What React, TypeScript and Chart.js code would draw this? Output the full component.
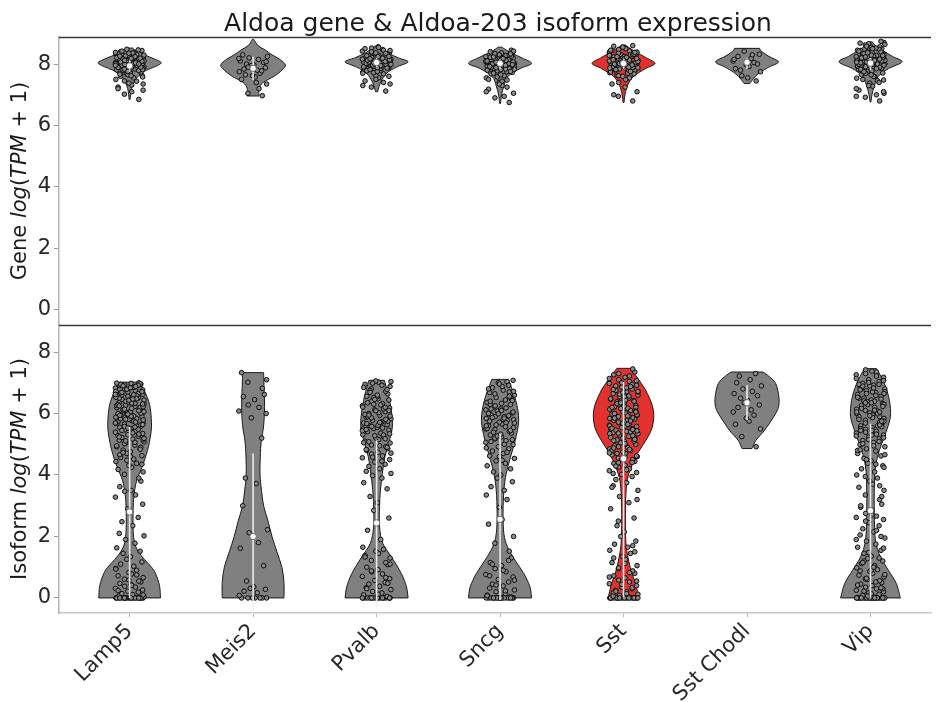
import React, { useEffect, useRef } from "react";
import { Chart, registerables } from "chart.js";

Chart.register(...registerables);

// ---------------- data ----------------
const CATEGORIES = ["Lamp5", "Meis2", "Pvalb", "Sncg", "Sst", "Sst Chodl", "Vip"];
const HIGHLIGHT = "Sst";
const TITLE = "Aldoa gene & Aldoa-203 isoform expression";
const Y_TICKS = [0, 2, 4, 6, 8];
const Y_MIN = -0.49;
const Y_MAX = 8.88;
const X_MIN = -0.572;
const X_MAX = 6.49;

// violin outlines: [value, half-width in category units], bottom to top
const GENE_VIOLIN_LAMP5 = [[6.85, 0.004], [7.2, 0.016], [7.5, 0.048], [7.75, 0.113], [7.95, 0.225], [8.05, 0.255], [8.15, 0.209], [8.3, 0.121], [8.45, 0.048], [8.52, 0.024]];
const GENE_VIOLIN_MEIS2 = [[6.96, 0.048], [7.2, 0.048], [7.4, 0.081], [7.6, 0.169], [7.8, 0.233], [7.97, 0.262], [8.15, 0.217], [8.3, 0.153], [8.46, 0.097], [8.6, 0.04], [8.8, 0.006]];
const GENE_VIOLIN_PVALB = [[7.1, 0.008], [7.4, 0.032], [7.7, 0.081], [7.9, 0.161], [8.07, 0.255], [8.2, 0.177], [8.35, 0.097], [8.5, 0.04], [8.58, 0.016]];
const GENE_VIOLIN_SNCG = [[6.72, 0.004], [7.0, 0.012], [7.3, 0.032], [7.6, 0.064], [7.85, 0.161], [8.02, 0.255], [8.2, 0.177], [8.35, 0.097], [8.48, 0.04], [8.55, 0.016]];
const GENE_VIOLIN_SST = [[6.75, 0.004], [7.0, 0.012], [7.3, 0.032], [7.6, 0.081], [7.85, 0.177], [8.02, 0.255], [8.2, 0.185], [8.4, 0.097], [8.55, 0.04], [8.62, 0.016]];
const GENE_VIOLIN_CHODL = [[7.37, 0.024], [7.5, 0.048], [7.7, 0.097], [7.9, 0.177], [8.07, 0.255], [8.25, 0.177], [8.4, 0.121], [8.51, 0.101]];
const GENE_VIOLIN_VIP = [[6.77, 0.004], [7.0, 0.012], [7.3, 0.032], [7.6, 0.064], [7.85, 0.145], [8.07, 0.255], [8.25, 0.177], [8.45, 0.097], [8.6, 0.04], [8.72, 0.016]];

const ISO_VIOLIN_LAMP5 = [[0, 0.25], [0.4, 0.242], [0.8, 0.209], [1.0, 0.177], [1.25, 0.121], [1.5, 0.072], [1.8, 0.04], [2.3, 0.028], [3.2, 0.032], [3.8, 0.056], [4.25, 0.1], [4.8, 0.145], [5.3, 0.17], [5.7, 0.177], [6.3, 0.161], [6.8, 0.113], [7.02, 0.08]];
const ISO_VIOLIN_MEIS2 = [[0, 0.25], [0.5, 0.25], [1.0, 0.233], [1.5, 0.193], [2.0, 0.153], [2.5, 0.121], [3.0, 0.085], [3.5, 0.068], [4.0, 0.056], [4.6, 0.058], [5.1, 0.066], [5.6, 0.085], [6.2, 0.093], [6.8, 0.089], [7.33, 0.085]];
const ISO_VIOLIN_PVALB = [[0, 0.255], [0.36, 0.242], [0.79, 0.201], [1.33, 0.121], [1.77, 0.051], [2.31, 0.024], [2.96, 0.024], [3.5, 0.031], [4.05, 0.047], [4.59, 0.067], [5.13, 0.105], [5.67, 0.129], [6.43, 0.105], [7.08, 0.063]];
const ISO_VIOLIN_SNCG = [[0, 0.255], [0.36, 0.242], [0.79, 0.193], [1.23, 0.121], [1.66, 0.06], [2.09, 0.031], [2.75, 0.024], [3.5, 0.031], [4.05, 0.05], [4.59, 0.085], [5.13, 0.123], [5.78, 0.151], [6.43, 0.127], [7.11, 0.067]];
const ISO_VIOLIN_SST = [[0, 0.125], [0.47, 0.097], [0.9, 0.06], [1.45, 0.03], [1.88, 0.018], [2.53, 0.015], [3.28, 0.018], [3.83, 0.03], [4.26, 0.063], [4.7, 0.113], [5.13, 0.181], [5.56, 0.233], [6.1, 0.242], [6.65, 0.193], [7.08, 0.127], [7.47, 0.054]];
const ISO_VIOLIN_CHODL = [[4.86, 0.04], [4.91, 0.047], [5.13, 0.072], [5.45, 0.141], [5.89, 0.215], [6.2, 0.254], [6.54, 0.258], [6.97, 0.233], [7.2, 0.18], [7.35, 0.129]];
const ISO_VIOLIN_VIP = [[0, 0.242], [0.47, 0.209], [0.9, 0.145], [1.33, 0.081], [1.88, 0.04], [2.75, 0.031], [3.61, 0.031], [4.26, 0.04], [4.8, 0.072], [5.35, 0.121], [5.89, 0.161], [6.43, 0.153], [6.97, 0.113], [7.46, 0.05]];

// individual cells (jittered dots)
const GENE_DOTS_LAMP5 = [6.85, 7.02, 7.15, 7.25, 7.32, 7.38, 7.44, 7.5, 7.55, 7.6, 7.64, 7.68, 7.72, 7.75, 7.78, 7.81, 7.84, 7.87, 7.9, 7.92, 7.94, 7.96, 7.98, 8.0, 8.02, 8.04, 8.06, 8.08, 8.1, 8.12, 8.14, 8.16, 8.18, 8.2, 8.22, 8.25, 8.28, 8.31, 8.34, 8.37, 8.4, 8.44, 8.48, 7.7, 7.8, 7.88, 7.95, 8.0, 8.05, 8.1, 8.15, 8.2, 8.3, 7.85, 7.65, 7.58, 8.38, 8.08, 7.99,
  7.62, 7.67, 7.74, 7.79, 7.83, 7.86, 7.89, 7.91, 7.93, 7.97, 8.01, 8.03, 8.07, 8.09, 8.11, 8.13, 8.17, 8.19, 8.21, 8.24, 8.27, 8.29, 8.33, 8.36, 8.42, 8.46, 7.76, 7.82, 7.96, 8.04, 8.12, 8.18, 8.26, 7.9, 8.0, 7.45, 7.35, 7.2, 7.1, 8.35];
const GENE_DOTS_MEIS2 = [6.97, 7.05, 7.35, 7.5, 7.58, 7.62, 7.7, 7.75, 7.8, 7.84, 7.88, 7.92, 7.97, 8.0, 8.05, 8.1, 8.15, 8.2, 8.25, 8.3, 7.4, 7.65, 7.78, 7.95, 8.08, 8.18, 7.2, 7.9];
const GENE_DOTS_PVALB = [7.12, 7.25, 7.35, 7.45, 7.55, 7.62, 7.68, 7.74, 7.8, 7.84, 7.88, 7.92, 7.96, 8.0, 8.03, 8.06, 8.09, 8.12, 8.15, 8.18, 8.22, 8.26, 8.3, 8.34, 8.38, 8.42, 8.47, 8.52, 8.56, 7.78, 7.9, 7.98, 8.05, 8.1, 8.2, 8.28, 8.36, 8.45, 7.7, 7.86, 8.01,
  7.6, 7.72, 7.76, 7.82, 7.87, 7.91, 7.94, 7.97, 7.99, 8.02, 8.04, 8.07, 8.08, 8.11, 8.14, 8.16, 8.19, 8.21, 8.24, 8.27, 8.32, 8.35, 8.4, 8.44, 8.5, 8.54, 7.5, 7.4, 7.3, 7.95, 8.13, 8.25, 8.04, 7.88, 8.17];
const GENE_DOTS_SNCG = [6.75, 6.9, 7.05, 7.18, 7.3, 7.4, 7.48, 7.55, 7.62, 7.68, 7.73, 7.78, 7.82, 7.86, 7.9, 7.93, 7.96, 7.99, 8.02, 8.05, 8.08, 8.11, 8.14, 8.17, 8.2, 8.24, 8.28, 8.32, 8.36, 8.4, 8.45, 7.85, 7.95, 8.0, 8.1, 8.2, 8.3, 7.75, 8.06, 7.92, 8.15, 8.38, 7.58,
  7.65, 7.7, 7.76, 7.8, 7.84, 7.88, 7.91, 7.94, 7.97, 8.0, 8.01, 8.04, 8.07, 8.09, 8.12, 8.16, 8.19, 8.22, 8.26, 8.3, 8.34, 8.42, 7.5, 7.44, 7.35, 7.25, 7.1, 6.95, 7.88, 7.98, 8.03, 8.13, 8.23, 8.33, 8.1, 7.96, 8.06, 7.83, 7.92, 8.18];
const GENE_DOTS_SST = [6.8, 6.95, 7.1, 7.35, 7.5, 7.6, 7.66, 7.72, 7.77, 7.82, 7.86, 7.9, 7.94, 7.97, 8.0, 8.03, 8.06, 8.09, 8.12, 8.15, 8.18, 8.21, 8.25, 8.29, 8.33, 8.37, 8.42, 8.47, 8.52, 8.58, 7.8, 7.88, 7.95, 8.02, 8.08, 8.14, 8.2, 8.3, 8.4, 7.7, 7.84, 7.99, 8.1, 8.25, 7.64,
  7.68, 7.74, 7.79, 7.84, 7.88, 7.92, 7.96, 7.98, 8.01, 8.04, 8.07, 8.1, 8.13, 8.16, 8.19, 8.23, 8.27, 8.31, 8.35, 8.39, 8.44, 8.5, 8.55, 7.76, 7.87, 7.93, 8.0, 8.05, 8.11, 8.17, 8.24, 8.32, 8.45, 7.9, 8.02, 8.08, 8.14, 8.22, 7.82, 7.97, 8.06, 8.18, 8.28, 7.55, 7.4, 7.25, 7.0, 8.38, 8.6, 7.62];
const GENE_DOTS_CHODL = [7.45, 7.62, 7.75, 7.85, 7.92, 7.98, 8.05, 8.1, 8.18, 8.25, 8.32, 8.42, 7.55, 7.8, 8.0, 8.15, 8.3];
const GENE_DOTS_VIP = [6.8, 6.92, 7.05, 7.15, 7.28, 7.38, 7.46, 7.54, 7.6, 7.66, 7.71, 7.76, 7.8, 7.84, 7.88, 7.92, 7.95, 7.98, 8.01, 8.04, 8.07, 8.1, 8.13, 8.16, 8.2, 8.24, 8.28, 8.33, 8.38, 8.44, 8.5, 8.56, 8.62, 8.7, 7.82, 7.9, 7.97, 8.03, 8.09, 8.15, 8.22, 8.3, 8.4, 8.55, 7.74, 7.86, 7.94, 8.0, 8.06, 8.12, 8.18, 8.26, 8.35, 8.48, 8.66, 7.48, 7.2, 7.0,
  7.7, 7.78, 7.83, 7.87, 7.9, 7.93, 7.96, 7.99, 8.02, 8.05, 8.08, 8.11, 8.14, 8.17, 8.21, 8.25, 8.29, 8.34, 8.39, 8.45, 8.52, 8.58, 8.64, 8.68, 7.6, 7.5, 7.4, 7.3, 7.1, 6.95, 7.85, 7.91, 7.98, 8.04, 8.1, 8.16, 8.23, 8.31, 8.42, 8.5, 7.95, 8.0, 8.06, 8.12, 8.2, 8.28, 8.37, 7.65, 7.75, 8.74];

const ISO_DOTS_LAMP5 = [0, 0, 0, 0, 0, 0, 0, 0, 0, 0, 0, 0, 0, 0, 0, 0, 0, 0, 0.04, 0.07, 0.11, 0.14, 0.19, 0.22, 0.26, 0.31, 0.35, 0.38, 0.43, 0.47, 0.52, 0.55, 0.61, 0.66, 0.72, 0.78, 0.83, 0.9, 0.96, 1.03, 1.1, 1.17, 1.26, 1.34, 1.45, 1.52, 1.63, 1.78, 1.9, 2.02, 2.1, 2.35, 2.48, 2.62, 2.9, 3.05, 3.28, 3.35, 3.47, 3.5, 3.62, 3.8, 3.9, 4.02, 4.1, 4.18, 4.25, 4.31, 4.38, 4.44, 4.52, 4.57, 4.63, 4.7, 4.76, 4.81, 4.87, 4.92, 4.97, 5.03, 5.08, 5.13, 5.17, 5.22, 5.26, 5.31, 5.35, 5.39, 5.43, 5.47, 5.51, 5.55, 5.59, 5.62, 5.66, 5.7, 5.73, 5.77, 5.81, 5.84, 5.88, 5.92, 5.95, 5.99, 6.03, 6.07, 6.11, 6.15, 6.19, 6.23, 6.27, 6.31, 6.36, 6.41, 6.46, 6.51, 6.57, 6.63, 6.68, 6.74, 6.8, 6.86, 6.91, 6.96, 7.0, 5.02, 5.15, 5.28, 5.4, 5.52, 5.6, 5.68, 5.75, 5.83, 5.9, 5.97, 6.05, 6.12, 6.2, 6.26, 6.33, 6.39, 6.44, 6.5, 6.55, 6.6, 6.65, 6.7, 6.77, 6.83, 6.88, 6.93, 6.98, 4.66, 4.9, 5.33, 5.58, 5.79, 6.0, 6.17, 6.36, 6.58, 6.72, 6.85, 6.95,
  4.35, 4.48, 4.6, 4.73, 4.84, 4.95, 5.06, 5.11, 5.19, 5.24, 5.37, 5.45, 5.49, 5.53, 5.64, 5.69, 5.72, 5.86, 5.91, 5.94, 6.01, 6.09, 6.14, 6.22, 6.29, 6.34, 6.43, 6.48, 6.53, 6.61, 6.67, 6.71, 6.79, 6.84, 6.9, 6.97, 6.99, 5.56, 5.81, 6.06, 6.25, 6.47, 6.69, 6.92, 5.98, 6.31, 6.62, 6.88, 0, 0, 0, 0, 0, 0, 0.1, 0.24, 0.41, 0.58, 0.75, 0.94];
const ISO_DOTS_MEIS2 = [0, 0, 0, 0, 0, 0, 0, 0.08, 0.17, 0.22, 0.28, 0.31, 0.36, 0.55, 1.05, 1.62, 1.8, 2.12, 2.22, 3.0, 3.72, 3.9, 5.2, 5.86, 6.0, 6.08, 6.2, 6.28, 6.45, 6.55, 6.62, 6.82, 7.02, 7.1, 7.33];
const ISO_DOTS_PVALB = [0, 0, 0, 0, 0, 0, 0, 0, 0, 0, 0, 0, 0, 0, 0.05, 0.1, 0.16, 0.21, 0.27, 0.33, 0.38, 0.45, 0.5, 0.57, 0.63, 0.7, 0.78, 0.85, 0.92, 1.0, 1.08, 1.15, 1.22, 1.3, 1.38, 1.45, 1.52, 1.58, 1.65, 1.9, 2.2, 2.6, 2.85, 3.1, 3.3, 3.55, 3.75, 3.9, 3.98, 4.05, 4.12, 4.2, 4.28, 4.35, 4.42, 4.5, 4.56, 4.62, 4.68, 4.74, 4.8, 4.86, 4.92, 4.98, 5.04, 5.1, 5.15, 5.2, 5.26, 5.31, 5.36, 5.41, 5.46, 5.51, 5.55, 5.6, 5.64, 5.69, 5.73, 5.78, 5.83, 5.88, 5.94, 6.0, 6.06, 6.12, 6.18, 6.25, 6.32, 6.4, 6.48, 6.56, 6.64, 6.72, 6.8, 6.88, 6.95, 7.02, 7.06, 5.3, 5.5, 5.7, 5.9, 6.1, 6.3, 6.55, 6.75, 4.9, 5.05,
  4.45, 4.58, 4.71, 4.83, 4.95, 5.08, 5.18, 5.28, 5.34, 5.44, 5.53, 5.58, 5.62, 5.67, 5.75, 5.81, 5.86, 5.92, 5.97, 6.03, 6.09, 6.15, 6.21, 6.28, 6.35, 6.44, 6.52, 6.6, 6.69, 6.78, 6.85, 6.92, 6.99, 7.04, 5.48, 5.71, 5.95, 6.2, 6.46, 0, 0, 0, 0, 0.12, 0.3, 0.48, 0.66, 0.88, 1.1, 1.33];
const ISO_DOTS_SNCG = [0, 0, 0, 0, 0, 0, 0, 0, 0, 0, 0, 0, 0, 0, 0.04, 0.09, 0.14, 0.2, 0.26, 0.32, 0.39, 0.45, 0.52, 0.6, 0.68, 0.76, 0.85, 0.95, 1.05, 1.15, 1.3, 1.52, 1.78, 2.0, 2.4, 2.55, 2.95, 3.2, 3.35, 3.5, 3.62, 3.78, 3.9, 4.0, 4.1, 4.2, 4.3, 4.38, 4.46, 4.54, 4.62, 4.7, 4.78, 4.85, 4.92, 4.99, 5.06, 5.12, 5.18, 5.24, 5.3, 5.36, 5.42, 5.48, 5.54, 5.6, 5.66, 5.72, 5.78, 5.84, 5.9, 5.96, 6.02, 6.08, 6.15, 6.22, 6.29, 6.36, 6.44, 6.52, 6.6, 6.68, 6.76, 6.84, 6.92, 7.0, 7.08, 5.5, 5.7, 5.9, 6.1, 6.3, 6.5, 6.7, 5.2, 5.8, 6.0,
  4.48, 4.6, 4.74, 4.88, 5.0, 5.09, 5.15, 5.27, 5.33, 5.39, 5.45, 5.51, 5.57, 5.63, 5.69, 5.75, 5.81, 5.87, 5.93, 5.99, 6.05, 6.12, 6.18, 6.25, 6.33, 6.4, 6.48, 6.56, 6.64, 6.72, 6.8, 6.88, 6.96, 7.04, 5.6, 5.85, 6.15, 6.42, 0, 0, 0, 0, 0.07, 0.23, 0.42, 0.58, 0.72, 0.9, 1.1, 1.22];
const ISO_DOTS_SST = [0, 0, 0, 0, 0, 0, 0, 0, 0, 0, 0, 0, 0, 0, 0, 0, 0.04, 0.08, 0.12, 0.16, 0.2, 0.25, 0.3, 0.35, 0.4, 0.46, 0.52, 0.58, 0.65, 0.72, 0.8, 0.88, 0.95, 1.05, 1.15, 1.25, 1.35, 1.45, 1.55, 1.65, 1.75, 1.85, 2.0, 2.15, 2.35, 2.6, 2.9, 3.1, 3.3, 3.5, 3.65, 3.75, 3.85, 3.95, 4.02, 4.08, 4.14, 4.2, 4.26, 4.32, 4.38, 4.44, 4.5, 4.55, 4.6, 4.65, 4.7, 4.75, 4.8, 4.85, 4.9, 4.95, 5.0, 5.05, 5.1, 5.14, 5.18, 5.22, 5.26, 5.3, 5.34, 5.38, 5.42, 5.46, 5.5, 5.54, 5.58, 5.62, 5.66, 5.7, 5.74, 5.78, 5.82, 5.86, 5.9, 5.94, 5.98, 6.02, 6.06, 6.1, 6.14, 6.18, 6.22, 6.26, 6.3, 6.34, 6.38, 6.42, 6.46, 6.5, 6.55, 6.6, 6.65, 6.7, 6.75, 6.8, 6.86, 6.92, 6.98, 7.04, 7.1, 7.18, 7.26, 7.35, 7.45, 4.4, 4.6, 4.8, 5.0, 5.2, 5.4, 5.6, 5.8, 6.0, 6.2, 6.4, 6.6, 4.7, 5.1, 5.5, 5.9, 6.3, 6.7,
  4.05, 4.17, 4.29, 4.41, 4.52, 4.62, 4.72, 4.83, 4.92, 5.02, 5.12, 5.2, 5.28, 5.36, 5.44, 5.52, 5.6, 5.68, 5.76, 5.84, 5.92, 6.0, 6.08, 6.16, 6.24, 6.32, 6.4, 6.48, 6.57, 6.63, 6.72, 6.78, 6.84, 6.9, 6.95, 7.0, 7.07, 7.14, 7.22, 7.3, 4.58, 4.88, 5.16, 5.48, 5.72, 5.96, 6.2, 6.44, 6.68, 6.88, 5.35, 5.65, 5.85, 6.05, 6.35, 6.55, 0, 0, 0, 0, 0, 0, 0.06, 0.14, 0.22, 0.33, 0.44, 0.55, 0.68, 0.82, 0.98, 1.12, 1.3, 1.5, 1.7, 2.5, 3.2, 3.6];
const ISO_DOTS_CHODL = [4.92, 5.25, 5.5, 5.65, 5.75, 5.85, 5.95, 6.05, 6.12, 6.2, 6.28, 6.35, 6.42, 6.5, 6.58, 6.65, 6.72, 6.8, 6.9, 7.0, 7.1, 7.22, 7.3];
const ISO_DOTS_VIP = [0, 0, 0, 0, 0, 0, 0, 0, 0, 0, 0, 0, 0, 0, 0, 0, 0, 0, 0, 0, 0.04, 0.08, 0.12, 0.16, 0.2, 0.25, 0.3, 0.35, 0.4, 0.45, 0.5, 0.56, 0.62, 0.68, 0.74, 0.8, 0.86, 0.92, 0.98, 1.05, 1.12, 1.2, 1.28, 1.36, 1.45, 1.55, 1.65, 1.75, 1.85, 1.95, 2.05, 2.15, 2.25, 2.35, 2.45, 2.55, 2.62, 2.66, 2.75, 2.85, 2.95, 3.05, 3.2, 3.35, 3.5, 3.6, 3.7, 3.8, 3.9, 4.0, 4.1, 4.2, 4.3, 4.38, 4.46, 4.54, 4.62, 4.7, 4.78, 4.85, 4.92, 4.99, 5.06, 5.12, 5.18, 5.24, 5.3, 5.36, 5.42, 5.48, 5.54, 5.6, 5.66, 5.72, 5.78, 5.84, 5.9, 5.96, 6.02, 6.08, 6.14, 6.2, 6.26, 6.32, 6.38, 6.44, 6.5, 6.56, 6.62, 6.68, 6.74, 6.8, 6.86, 6.92, 6.98, 7.04, 7.1, 7.18, 7.26, 7.35, 7.42, 5.3, 5.5, 5.7, 5.9, 6.1, 6.3, 6.5, 6.7, 6.9, 5.6, 6.0, 6.4, 6.8, 0.3, 0.6, 0.9, 1.2, 2.0, 4.8,
  4.35, 4.5, 4.66, 4.82, 4.95, 5.02, 5.09, 5.15, 5.21, 5.27, 5.33, 5.39, 5.45, 5.51, 5.57, 5.63, 5.69, 5.75, 5.81, 5.87, 5.93, 5.99, 6.05, 6.11, 6.17, 6.23, 6.29, 6.35, 6.41, 6.47, 6.53, 6.59, 6.65, 6.71, 6.77, 6.83, 6.89, 6.95, 7.01, 7.07, 7.14, 7.22, 7.3, 7.38, 5.45, 5.75, 6.05, 6.35, 6.65, 6.95, 0, 0, 0, 0, 0, 0, 0, 0.06, 0.14, 0.22, 0.33, 0.42, 0.52, 0.64, 0.76, 0.88, 1.0, 1.15, 1.3, 1.48, 1.62, 1.9, 2.2, 2.5, 2.7, 3.0, 3.3, 3.65, 3.95, 4.25];

// medians and inner lines
const GENE_MEDIAN = [7.94, 7.86, 8.05, 8.02, 8.02, 8.06, 8.03];
const GENE_LINE_LO = [7.75, 7.48, 7.9, 7.85, 7.85, 7.85, 7.8];
const GENE_LINE_HI = [8.12, 8.24, 8.2, 8.15, 8.15, 8.2, 8.2];
const ISO_MEDIAN = [2.8, 2.0, 2.44, 2.56, 4.53, 6.35, 2.84];
const ISO_LINE_LO = [0.0, -0.6, -0.29, -0.07, 0.03, 5.78, 0.0];
const ISO_LINE_HI = [5.56, 4.7, 5.13, 5.35, 7.02, 6.92, 5.67];

// horizontal jitter pattern (fraction of jitter half-width)
const JITTER = [0.62, -0.35, 0.91, -0.78, 0.14, -0.05, 0.47, -0.93, 0.28, -0.61, 0.83, -0.19, 0.05, -0.44, 0.71, -0.87, 0.36, -0.27, 0.97, -0.7, 0.21, -0.52, 0.58, -0.12, 0.88, -0.96, 0.4, -0.33, 0.1, -0.66, 0.76];
const JITTER_W = 0.12;

// ---------------- styling ----------------
const FONT = "'DejaVu Sans', 'Liberation Sans', sans-serif";
const GRAY = "#808080";
const RED = "#e3322d";

const PANELS = [
  {
    axis: "yTop",
    label: "Gene",
    violins: [GENE_VIOLIN_LAMP5, GENE_VIOLIN_MEIS2, GENE_VIOLIN_PVALB, GENE_VIOLIN_SNCG, GENE_VIOLIN_SST, GENE_VIOLIN_CHODL, GENE_VIOLIN_VIP],
    dots: [GENE_DOTS_LAMP5, GENE_DOTS_MEIS2, GENE_DOTS_PVALB, GENE_DOTS_SNCG, GENE_DOTS_SST, GENE_DOTS_CHODL, GENE_DOTS_VIP],
    med: GENE_MEDIAN,
    lo: GENE_LINE_LO,
    hi: GENE_LINE_HI,
  },
  {
    axis: "yBot",
    label: "Isoform",
    violins: [ISO_VIOLIN_LAMP5, ISO_VIOLIN_MEIS2, ISO_VIOLIN_PVALB, ISO_VIOLIN_SNCG, ISO_VIOLIN_SST, ISO_VIOLIN_CHODL, ISO_VIOLIN_VIP],
    dots: [ISO_DOTS_LAMP5, ISO_DOTS_MEIS2, ISO_DOTS_PVALB, ISO_DOTS_SNCG, ISO_DOTS_SST, ISO_DOTS_CHODL, ISO_DOTS_VIP],
    med: ISO_MEDIAN,
    lo: ISO_LINE_LO,
    hi: ISO_LINE_HI,
  },
];

function smoothTo(ctx: CanvasRenderingContext2D, pts: { x: number; y: number }[]) {
  for (let i = 0; i < pts.length - 1; i++) {
    const p0 = pts[i - 1] || pts[i];
    const p1 = pts[i];
    const p2 = pts[i + 1];
    const p3 = pts[i + 2] || p2;
    ctx.bezierCurveTo(
      p1.x + (p2.x - p0.x) / 6,
      p1.y + (p2.y - p0.y) / 6,
      p2.x - (p3.x - p1.x) / 6,
      p2.y - (p3.y - p1.y) / 6,
      p2.x,
      p2.y
    );
  }
}

const violinPlugin = {
  id: "violins",
  beforeDatasetsDraw(chart: any) {
    const ctx: CanvasRenderingContext2D = chart.ctx;
    const xs = chart.scales.x;
    const area = chart.chartArea;
    PANELS.forEach((p) => {
      const ys = chart.scales[p.axis];
      ctx.save();
      ctx.beginPath();
      ctx.rect(area.left, ys.top, area.right - area.left, ys.bottom - ys.top);
      ctx.clip();
      CATEGORIES.forEach((cat, c) => {
        const prof = p.violins[c];
        const left = prof.map(([v, w]) => ({ x: xs.getPixelForValue(c - w), y: ys.getPixelForValue(v) }));
        const right = prof.map(([v, w]) => ({ x: xs.getPixelForValue(c + w), y: ys.getPixelForValue(v) })).reverse();
        ctx.beginPath();
        ctx.moveTo(left[0].x, left[0].y);
        smoothTo(ctx, left);
        ctx.lineTo(right[0].x, right[0].y);
        smoothTo(ctx, right);
        ctx.closePath();
        ctx.fillStyle = cat === HIGHLIGHT ? RED : GRAY;
        ctx.fill();
        ctx.lineWidth = 1;
        ctx.strokeStyle = "#1a1a1a";
        ctx.stroke();
      });
      ctx.restore();
    });
  },
  afterDraw(chart: any) {
    const ctx: CanvasRenderingContext2D = chart.ctx;
    const area = chart.chartArea;
    const yTop = chart.scales.yTop;
    const yBot = chart.scales.yBot;
    ctx.save();
    // top spine and panel separator
    ctx.strokeStyle = "#3a3a3a";
    ctx.lineWidth = 1.3;
    [yTop.top, yBot.top].forEach((y: number) => {
      ctx.beginPath();
      ctx.moveTo(area.left, Math.round(y) + 0.5);
      ctx.lineTo(area.right, Math.round(y) + 0.5);
      ctx.stroke();
    });
    // title
    ctx.fillStyle = "#1a1a1a";
    ctx.font = `25px ${FONT}`;
    ctx.textAlign = "center";
    ctx.textBaseline = "alphabetic";
    ctx.fillText(TITLE, (area.left + area.right) / 2 + 3, 31);
    // y-axis titles with mathtext-like italics
    PANELS.forEach((p) => {
      const ys = chart.scales[p.axis];
      const segs: [string, boolean][] = [
        [p.label + " ", false],
        ["log", true],
        ["(", false],
        ["TPM", true],
        [" + 1)", false],
      ];
      const size = 21;
      let total = 0;
      const widths = segs.map(([t, it]) => {
        ctx.font = `${it ? "italic " : ""}${size}px ${FONT}`;
        const w = ctx.measureText(t).width;
        total += w;
        return w;
      });
      ctx.save();
      ctx.translate(21, (ys.top + ys.bottom) / 2);
      ctx.rotate(-Math.PI / 2);
      ctx.textAlign = "left";
      ctx.textBaseline = "middle";
      let x = -total / 2;
      segs.forEach(([t, it], i) => {
        ctx.font = `${it ? "italic " : ""}${size}px ${FONT}`;
        ctx.fillText(t, x, 0);
        x += widths[i];
      });
      ctx.restore();
    });
    ctx.restore();
  },
};

function buildDatasets() {
  const datasets: any[] = [];
  PANELS.forEach((p) => {
    CATEGORIES.forEach((cat, c) => {
      datasets.push({
        label: `${p.label} ${cat} cells`,
        yAxisID: p.axis,
        xAxisID: "x",
        data: p.dots[c].map((v, i) => ({ x: c + JITTER[i % JITTER.length] * JITTER_W, y: v })),
        pointRadius: 2.3,
        pointBackgroundColor: "#8a8a8a",
        pointBorderColor: "#0c0c0c",
        pointBorderWidth: 1.0,
        showLine: false,
        order: 3,
      });
      datasets.push({
        label: `${p.label} ${cat} range`,
        yAxisID: p.axis,
        xAxisID: "x",
        data: [
          { x: c, y: p.lo[c] },
          { x: c, y: p.hi[c] },
        ],
        showLine: true,
        borderColor: "rgba(240,240,240,0.95)",
        borderWidth: 1.6,
        pointRadius: 0,
        order: 2,
      });
    });
    datasets.push({
      label: `${p.label} median`,
      yAxisID: p.axis,
      xAxisID: "x",
      data: CATEGORIES.map((_, c) => ({ x: c, y: p.med[c] })),
      pointRadius: 3.2,
      pointBackgroundColor: "#ffffff",
      pointBorderColor: "#555555",
      pointBorderWidth: 0.8,
      showLine: false,
      order: 1,
    });
  });
  return datasets;
}

function yScale(weight: number) {
  return {
    type: "linear",
    position: "left",
    stack: "panels",
    stackWeight: 1,
    weight,
    min: Y_MIN,
    max: Y_MAX,
    afterBuildTicks: (s: any) => {
      s.ticks = Y_TICKS.map((v) => ({ value: v }));
    },
    afterFit: (s: any) => {
      s.width = 59;
    },
    ticks: {
      font: { family: FONT, size: 21 },
      color: "#262626",
      padding: 3,
    },
    grid: { drawOnChartArea: false, drawTicks: true, tickLength: 5, tickColor: "#9a9a9a" },
    border: { display: true, color: "#b4b4b4", width: 1.5 },
  };
}

export default function App() {
  const ref = useRef<HTMLCanvasElement>(null);
  useEffect(() => {
    document.body.style.margin = "0";
    const chart = new Chart(ref.current as HTMLCanvasElement, {
      type: "scatter",
      data: { datasets: buildDatasets() },
      plugins: [violinPlugin],
      options: {
        animation: false,
        responsive: false,
        maintainAspectRatio: false,
        layout: { padding: { top: 37, right: 0, bottom: 0, left: 0 } },
        plugins: { legend: { display: false }, tooltip: { enabled: false }, title: { display: false } },
        scales: {
          x: {
            type: "linear",
            min: X_MIN,
            max: X_MAX,
            afterBuildTicks: (s: any) => {
              s.ticks = CATEGORIES.map((_, i) => ({ value: i }));
            },
            afterFit: (s: any) => {
              s.height = 89;
            },
            ticks: {
              callback: (v: any) => CATEGORIES[v] ?? "",
              autoSkip: false,
              minRotation: 45,
              maxRotation: 45,
              font: { family: FONT, size: 21 },
              color: "#262626",
              padding: 2,
            },
            grid: { drawOnChartArea: false, drawTicks: true, tickLength: 4, tickColor: "#b4b4b4" },
            border: { display: true, color: "#c8c8c8", width: 1.5 },
          },
          yBot: yScale(1),
          yTop: yScale(2),
        } as any,
      } as any,
    });
    return () => chart.destroy();
  }, []);
  return <canvas ref={ref} width={936} height={702} style={{ display: "block", width: 936, height: 702 }} />;
}
